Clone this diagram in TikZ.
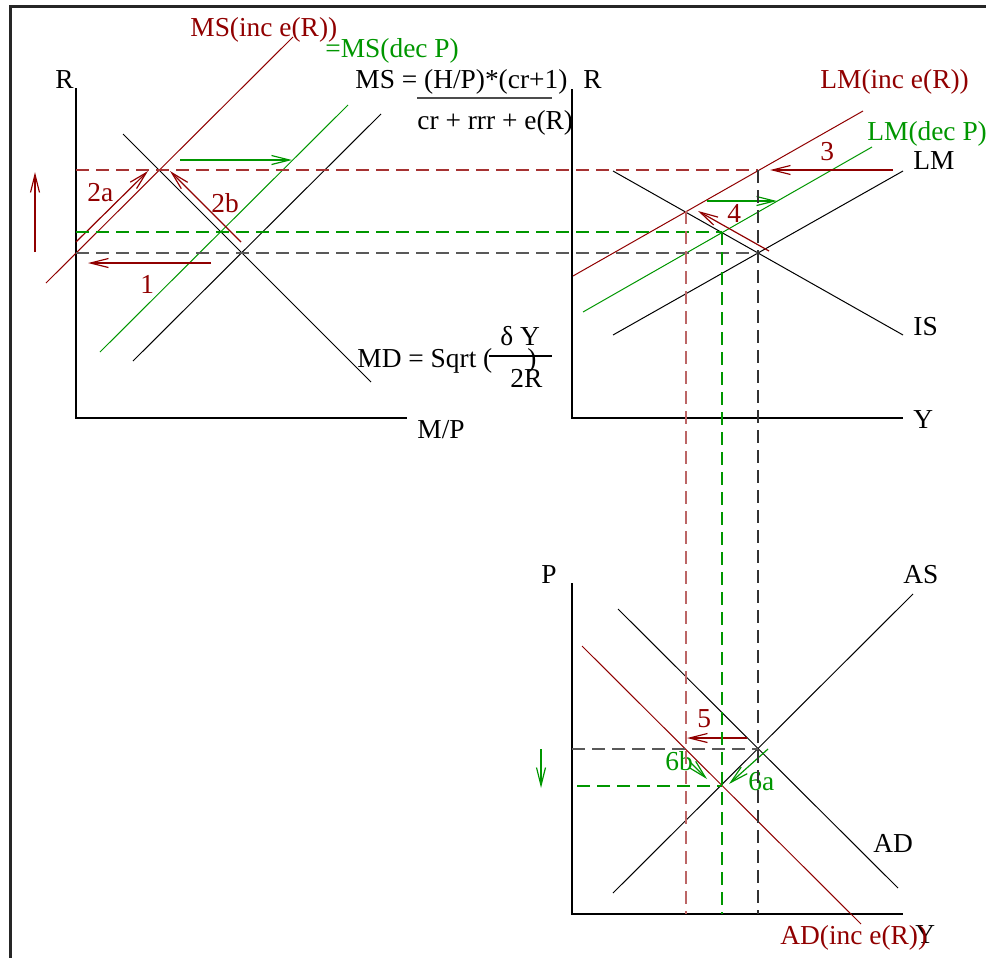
\documentclass[tikz,border=0pt]{standalone}
\usepackage{fontspec}
\setmainfont{Liberation Serif}
\usetikzlibrary{arrows.meta}
\definecolor{incred}{RGB}{144,0,0}
\definecolor{decgreen}{RGB}{0,150,0}
\tikzset{
  every node/.style={font=\fontsize{13.7}{16}\selectfont, inner sep=0pt},
  lbl/.style={anchor=base west},
  axis/.style={line width=0.6pt},
  curve/.style={line width=0.5pt},
  guide/.style={dash pattern=on 6.5pt off 3.5pt, line width=0.6pt},
  shiftarrow/.style={-{Straight Barb[length=9pt,width=4.5pt]}, line width=0.6pt},
  frameline/.style={line width=1.5pt, draw=black!85}
}
\begin{document}
\begin{tikzpicture}[x=0.5pt, y=-0.5pt]
\useasboundingbox (0,0) rectangle (986,958);

% frame (cropped on the right and bottom)
\coordinate (frBL) at (10.5,958);
\coordinate (frTL) at (10.5,6);
\coordinate (frTR) at (986,6);
\draw[frameline] (frBL) -- (frTL) -- (frTR);

%% ===========================================================================
%% Panel (a): money market
%% ===========================================================================
\coordinate (oA) at (76,418);
\coordinate (yA) at (76,88);
\coordinate (xA) at (407,418);
\draw[axis] (yA) -- (oA) -- (xA);
\node[lbl] (rA)  at (55,88)   {R};
\node[lbl] (mpA) at (417,438) {M/P};

% money demand and the three supply lines
\coordinate (mdTop)  at (123,134);
\coordinate (mdBot)  at (371,382);
\coordinate (msBot)  at (133,361);
\coordinate (msTop)  at (381,114);
\coordinate (msgBot) at (100,352);
\coordinate (msgTop) at (348,105);
\coordinate (msrBot) at (46,283);
\coordinate (msrTop) at (293,37);
\draw[curve] (mdTop) -- (mdBot);
\draw[curve] (msBot) -- (msTop);
\draw[curve, decgreen] (msgBot) -- (msgTop);
\draw[curve, incred] (msrBot) -- (msrTop);

% equilibria
\coordinate (eqA)  at (241,253);
\coordinate (eqAg) at (221,232);
\coordinate (eqAr) at (160,170);

% formulas
\node[lbl] (msEq)  at (355,88)  {MS = (H/P)*(cr+1)};
\coordinate (msBarL) at (417,98);
\coordinate (msBarR) at (552,98);
\draw[line width=0.6pt, black!70] (msBarL) -- (msBarR);
\node[lbl] (msDen) at (417,129) {cr + rrr + e(R)};
\node[lbl] (mdEq)  at (357,367) {MD = Sqrt (};
\node[lbl] (mdNum) at (500,345) {δ Y};
\coordinate (mdBarL) at (489,356);
\coordinate (mdBarR) at (552,356);
\draw[line width=0.6pt] (mdBarL) -- (mdBarR);
\node[lbl] (mdPar) at (527,367) {)};
\node[lbl] (mdDen) at (510,387) {2R};

% curve labels
\node[lbl, incred]   (msrLbl) at (190,36) {MS(inc e(R))};
\node[lbl, decgreen] (msgLbl) at (325,57) {=MS(dec P)};

% shifts
\coordinate (upS) at (35,252);
\coordinate (upE) at (35,172);
\draw[shiftarrow, incred] (upS) -- (upE);
\coordinate (s1S) at (211,263);
\coordinate (s1E) at (88,263);
\draw[shiftarrow, incred] (s1S) -- (s1E);
\node[lbl, incred] (l1) at (140,293) {1};
\coordinate (s2aS) at (76,242);
\coordinate (s2aE) at (148,171);
\draw[shiftarrow, incred] (s2aS) -- (s2aE);
\node[lbl, incred] (l2a) at (87,201) {2a};
\coordinate (s2bS) at (241,242);
\coordinate (s2bE) at (170,171);
\draw[shiftarrow, incred] (s2bS) -- (s2bE);
\node[lbl, incred] (l2b) at (211,212) {2b};
\coordinate (sgS) at (180,160);
\coordinate (sgE) at (292,160);
\draw[shiftarrow, decgreen] (sgS) -- (sgE);

%% ===========================================================================
%% Panel (b): IS-LM
%% ===========================================================================
\coordinate (oB) at (572,418);
\coordinate (yB) at (572,89);
\coordinate (xB) at (903,418);
\draw[axis] (yB) -- (oB) -- (xB);
\node[lbl] (rB) at (583,88)  {R};
\node[lbl] (yLB) at (913,428) {Y};

\coordinate (isTop)  at (613,171);
\coordinate (isBot)  at (903,335);
\coordinate (lmBot)  at (613,335);
\coordinate (lmTop)  at (903,171);
\coordinate (lmgBot) at (583,312);
\coordinate (lmgTop) at (872,147);
\coordinate (lmrBot) at (573,276);
\coordinate (lmrTop) at (863,111);
\draw[curve] (isTop) -- (isBot);
\draw[curve] (lmBot) -- (lmTop);
\draw[curve, decgreen] (lmgBot) -- (lmgTop);
\draw[curve, incred] (lmrBot) -- (lmrTop);

\coordinate (eqB)   at (758,253);
\coordinate (eqBg)  at (722,232);
\coordinate (eqBr)  at (686,211);
\coordinate (lmrHi) at (758,170);

\node[lbl, incred]   (lmrLbl) at (820,88)  {LM(inc e(R))};
\node[lbl, decgreen] (lmgLbl) at (867,140) {LM(dec P)};
\node[lbl]           (lmLbl)  at (913,169) {LM};
\node[lbl]           (isLbl)  at (913,335) {IS};

\coordinate (s3S) at (893,170);
\coordinate (s3E) at (770,170);
\draw[shiftarrow, incred] (s3S) -- (s3E);
\node[lbl, incred] (l3) at (820,160) {3};
\coordinate (sgbS) at (707,201);
\coordinate (sgbE) at (777,201);
\draw[shiftarrow, decgreen] (sgbS) -- (sgbE);
\coordinate (s4S) at (769,251);
\coordinate (s4E) at (698,211);
\draw[shiftarrow, incred] (s4S) -- (s4E);
\node[lbl, incred] (l4) at (727,222) {4};

%% ===========================================================================
%% Panel (c): AS-AD
%% ===========================================================================
\coordinate (oC) at (572,914);
\coordinate (yC) at (572,583);
\coordinate (xC) at (903,914);
\draw[axis] (yC) -- (oC) -- (xC);
\node[lbl] (pC)  at (541,583) {P};
\node[lbl] (yLC) at (915,943) {Y};

\coordinate (asBot)  at (613,893);
\coordinate (asTop)  at (913,594);
\coordinate (adTop)  at (618,609);
\coordinate (adBot)  at (898,888);
\coordinate (adrTop) at (582,646);
\coordinate (adrBot) at (861,924);
\draw[curve] (asBot) -- (asTop);
\draw[curve] (adTop) -- (adBot);
\draw[curve, incred] (adrTop) -- (adrBot);

\coordinate (eqC)  at (758,749);
\coordinate (eqCr) at (722,786);

\node[lbl]         (asLbl)  at (903,583) {AS};
\node[lbl]         (adLbl)  at (873,852) {AD};
\node[lbl, incred] (adrLbl) at (780,944) {AD(inc e(R))};

\coordinate (s5S) at (747,738);
\coordinate (s5E) at (687,738);
\draw[shiftarrow, incred] (s5S) -- (s5E);
\node[lbl, incred] (l5) at (697,727) {5};
\coordinate (s6aS) at (768,749);
\coordinate (s6aE) at (729,784);
\draw[shiftarrow, decgreen] (s6aS) -- (s6aE);
\node[lbl, decgreen] (l6a) at (748,790) {6a};
\coordinate (s6bS) at (690,762);
\coordinate (s6bE) at (707,779);
\draw[shiftarrow, decgreen] (s6bS) -- (s6bE);
\node[lbl, decgreen] (l6b) at (665,770) {6b};
\coordinate (dnS) at (541,749);
\coordinate (dnE) at (541,788);
\draw[shiftarrow, decgreen] (dnS) -- (dnE);

%% ===========================================================================
%% guide lines across panels
%% ===========================================================================
\draw[guide, incred!80]   (eqAr -| oA) -- (lmrHi);
\draw[guide, decgreen]    (eqAg -| oA) -- (eqBg);
\draw[guide, black!65]    (eqA -| oA)  -- (eqB);
\draw[guide, black!80]    (lmrHi) -- (lmrHi |- oC);
\draw[guide, decgreen]    (eqBg)  -- (eqBg |- oC);
\draw[guide, incred!60]   (eqBr)  -- (eqBr |- oC);
\draw[guide, black!65]    (eqC -| oC)  -- (eqC);
\draw[guide, decgreen]    ([xshift=2.5pt]eqCr -| oC) -- (eqCr);

\end{tikzpicture}
\end{document}
